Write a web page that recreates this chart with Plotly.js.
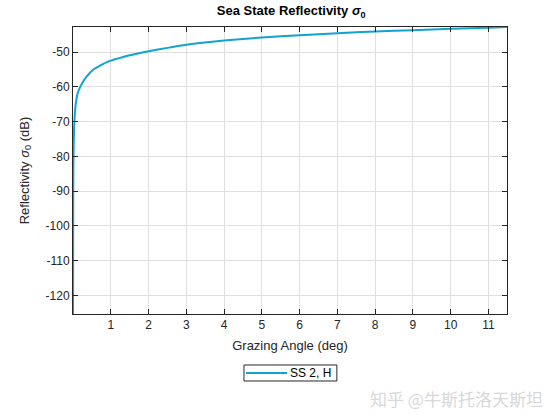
<!DOCTYPE html>
<html>
<head>
<meta charset="utf-8">
<script src="https://cdn.plot.ly/plotly-3.0.1.min.js"></script>
<style>html,body{margin:0;padding:0;background:#fff;}#chart{width:560px;height:420px;}</style>
</head>
<body>
<div id="chart"></div>
<script>
const grazingAngle = [0.001, 0.003, 0.005, 0.008, 0.012, 0.02, 0.037, 0.07, 0.12, 0.19, 0.25, 0.365, 0.54, 0.7, 0.94, 1.33, 1.6, 2, 2.5, 3, 4, 5, 6, 7, 8, 9, 10, 11, 11.49];
const reflectivity = [-125.3, -108, -96, -87, -81, -75.5, -70, -65.2, -62, -60, -58.8, -57, -55, -54, -52.7, -51.4, -50.7, -49.8, -48.8, -47.9, -46.7, -45.8, -45.2, -44.6, -44.1, -43.7, -43.3, -43.0, -42.8];
const seriesName = 'SS 2, H';
const xTicks = [1,2,3,4,5,6,7,8,9,10,11];
const yTicks = [-120,-110,-100,-90,-80,-70,-60,-50];

const font = 'Liberation Sans, Arial, sans-serif';
const lineColor = '#10a3cf';
const trace = {
  x: grazingAngle, y: reflectivity, type: 'scatter', mode: 'lines', name: seriesName,
  line: {color: lineColor, width: 2, shape: 'spline', smoothing: 0.6}
};
const axisCommon = {
  showline: true, linecolor: '#262626', linewidth: 1, mirror: 'ticks',
  ticks: 'inside', ticklen: 5, tickcolor: '#262626',
  showgrid: true, gridcolor: '#dfdfdf', gridwidth: 1, zeroline: false,
  tickfont: {family: font, size: 12, color: '#262626'}
};
const layout = {
  width: 560, height: 420,
  margin: {l: 73, r: 53, t: 27, b: 106},
  paper_bgcolor: '#fff', plot_bgcolor: '#fff',
  font: {family: font, color: '#262626'},
  title: {text: '<b>Sea State Reflectivity <i>σ</i><sub>0</sub></b>', x: 0.52, xanchor: 'center', y: 0.975, yanchor: 'middle', font: {family: font, size: 13, color: '#000'}},
  xaxis: Object.assign({}, axisCommon, {range: [0, 11.49], tickvals: xTicks, ticktext: xTicks.map(String),
    title: {text: 'Grazing Angle (deg)', font: {family: font, size: 13, color: '#262626'}, standoff: 9}}),
  yaxis: Object.assign({}, axisCommon, {range: [-125.3, -42.8], tickvals: yTicks, ticktext: yTicks.map(String),
    title: {text: 'Reflectivity <i>σ</i><sub>0</sub> (dB)', font: {family: font, size: 13, color: '#262626'}, standoff: 13}}),
  showlegend: false,
  shapes: [
    {type: 'rect', xref: 'paper', yref: 'paper', x0: 0.394, x1: 0.608, y0: -0.2334, y1: -0.1777,
      line: {color: '#262626', width: 1}, fillcolor: '#fff'},
    {type: 'line', xref: 'paper', yref: 'paper', x0: 0.3986, x1: 0.4931, y0: -0.2056, y1: -0.2056,
      line: {color: lineColor, width: 2}}
  ],
  annotations: [
    {text: seriesName, xref: 'paper', yref: 'paper', x: 0.4965, y: -0.2056, xanchor: 'left', yanchor: 'middle', showarrow: false,
      font: {family: font, size: 12, color: '#000'}},
    {text: '知乎 @牛斯托洛天斯坦', xref: 'paper', yref: 'paper', x: 1.0876, y: -0.296, xanchor: 'right', yanchor: 'middle', showarrow: false,
      font: {family: 'Noto Sans CJK SC, sans-serif', size: 17, color: '#d8d8d8'}}
  ]
};
Plotly.newPlot('chart', [trace], layout, {displayModeBar: false, staticPlot: true});
</script>
</body>
</html>
